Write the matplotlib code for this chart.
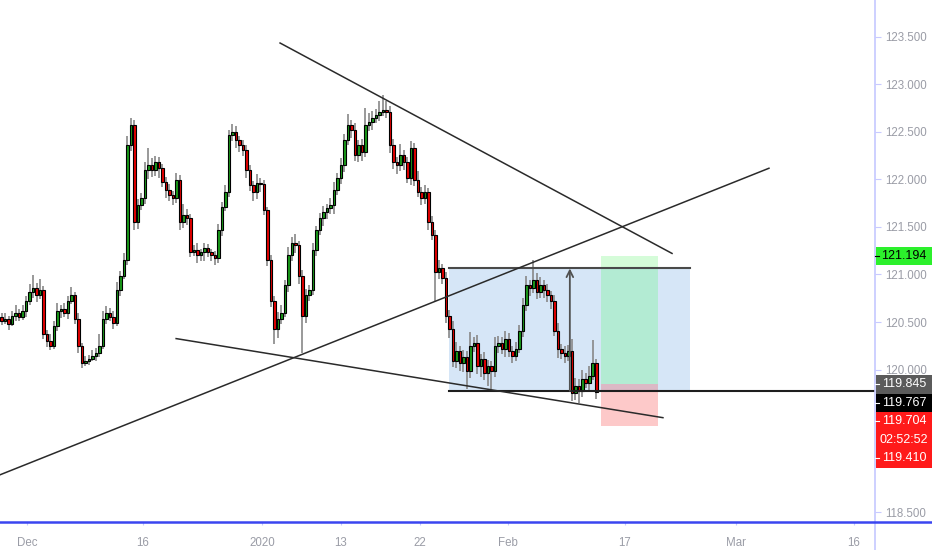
import numpy as np
import matplotlib.pyplot as plt
from matplotlib.patches import Rectangle

plt.rcParams['font.family'] = ['Liberation Sans', 'DejaVu Sans']

# ---- candles (USDJPY-ish, one bar per slot) ----
first_open = 120.55
closes = [
    120.516, 120.537, 120.484, 120.568, 120.600, 120.558, 120.621, 120.726, 120.811, 120.853,
    120.789, 120.832, 120.379, 120.305, 120.253, 120.463, 120.621, 120.642, 120.600, 120.726,
    120.779, 120.537, 120.253, 120.074, 120.095, 120.116, 120.147, 120.179, 120.253, 120.537,
    120.600, 120.558, 120.495, 120.832, 120.979, 121.147, 122.358, 122.568, 121.547, 121.726,
    121.800, 122.095, 122.147, 122.095, 122.179, 122.116, 121.968, 121.884, 121.832, 121.800,
    121.989, 121.547, 121.621, 121.589, 121.232, 121.253, 121.200, 121.232, 121.274, 121.232,
    121.200, 121.168, 121.463, 121.705, 121.863, 122.463, 122.495, 122.411, 122.358, 122.305,
    122.095, 121.937, 121.863, 121.958, 121.947, 121.674, 121.147, 120.726, 120.432, 120.537,
    120.600, 120.884, 121.200, 121.326, 121.305, 120.989, 120.568, 120.779, 120.832, 121.253,
    121.463, 121.589, 121.653, 121.695, 121.726, 121.884, 122.011, 122.147, 122.411, 122.568,
    122.516, 122.253, 122.358, 122.284, 122.568, 122.600, 122.642, 122.674, 122.705, 122.726,
    122.705, 122.358, 122.179, 122.147, 122.253, 122.179, 122.011, 122.326, 121.989, 121.863,
    121.800, 121.863, 121.547, 121.411, 121.021, 121.063, 120.958, 120.568, 120.432, 120.095,
    120.200, 120.074, 120.137, 119.989, 120.253, 120.284, 120.042, 120.116, 119.968, 120.042,
    119.989, 120.253, 120.284, 120.221, 120.326, 120.200, 120.147, 120.221, 120.411, 120.674,
    120.884, 120.853, 120.937, 120.811, 120.884, 120.832, 120.779, 120.726, 120.411, 120.221,
    120.179, 120.147, 120.200, 119.758, 119.832, 119.779, 119.905, 119.863, 119.937, 120.074,
    119.767,
]
# wick lengths in pips
wick_up = [
    4, 6, 3, 5, 8, 4, 6, 5, 9, 14,
    6, 12, 5, 4, 7, 5, 8, 4, 6, 5,
    9, 4, 6, 3, 5, 4, 6, 5, 12, 8,
    7, 5, 6, 9, 6, 8, 10, 8, 5, 7,
    6, 9, 18, 8, 7, 5, 4, 6, 7, 5,
    8, 6, 12, 7, 5, 6, 8, 4, 6, 5,
    4, 5, 7, 6, 8, 5, 9, 6, 4, 5,
    6, 5, 4, 10, 6, 5, 4, 6, 5, 7,
    8, 6, 9, 7, 10, 5, 6, 7, 6, 8,
    5, 6, 7, 5, 8, 9, 6, 8, 7, 12,
    6, 8, 5, 7, 18, 10, 8, 6, 12, 16,
    10, 6, 7, 5, 12, 6, 5, 8, 6, 10,
    6, 8, 5, 7, 6, 9, 5, 7, 6, 8,
    9, 5, 7, 6, 14, 6, 8, 5, 7, 6,
    5, 9, 7, 6, 8, 6, 5, 7, 6, 8,
    10, 6, 22, 8, 9, 6, 7, 5, 6, 8,
    5, 7, 6, 12, 8, 7, 9, 6, 10, 24,
    4,
]
wick_dn = [
    5, 4, 7, 3, 6, 5, 4, 7, 5, 6,
    8, 5, 6, 7, 5, 4, 6, 8, 5, 7,
    4, 6, 8, 6, 4, 5, 3, 6, 5, 4,
    6, 5, 7, 4, 6, 3, 5, 6, 8, 7,
    5, 6, 9, 7, 6, 10, 5, 8, 6, 7,
    5, 8, 6, 7, 5, 4, 8, 6, 9, 5,
    6, 7, 5, 6, 4, 5, 6, 8, 7, 6,
    8, 6, 9, 7, 8, 5, 6, 7, 16, 10,
    6, 5, 7, 6, 8, 9, 39, 8, 6, 5,
    6, 5, 8, 7, 6, 9, 5, 6, 7, 5,
    8, 6, 7, 9, 5, 6, 8, 5, 6, 4,
    6, 8, 7, 9, 6, 8, 5, 7, 6, 5,
    7, 6, 8, 5, 30, 7, 6, 8, 10, 7,
    8, 9, 10, 19, 8, 7, 9, 12, 8, 14,
    19, 7, 8, 6, 9, 7, 8, 6, 5, 7,
    6, 8, 5, 7, 6, 8, 7, 9, 6, 10,
    7, 8, 6, 9, 8, 13, 7, 6, 8, 5,
    8,
]

date_ticks = [7.3, 40.4, 74.4, 97.0, 119.6, 144.7, 178.1, 209.9, 243.6]
date_labels = ['Dec', '16', '2020', '13', '22', 'Feb', '17', 'Mar', '16']
price_ticks = [118.5, 119.0, 119.5, 120.0, 120.5, 121.0, 121.5, 122.0, 122.5, 123.0, 123.5]
hidden_ticks = [119.0, 119.5]  # covered by the price tags

# ---- drawings ----
trend_lines = [
    ((79.6, 123.432), (191.6, 121.221)),
    ((-0.4, 118.895), (219.3, 122.116)),
    ((49.9, 120.326), (189.0, 119.495)),
]
box_left, box_right = 127.9, 196.7
box_top, box_bottom = 121.063, 119.776
pos_left, pos_right = 171.3, 187.6
entry, target, stop = 119.845, 121.194, 119.410
arrow_x = 162.4

# label, price, background, text colour, draw tick dash
tags = [
    ('121.194', 121.194, '#2cf02c', 'black', True),
    ('119.845', 119.845, '#5b5b5b', 'white', True),
    ('119.767', 119.767, '#000000', 'white', True),
    ('119.704', 119.704, '#ff1a1a', 'white', True),
    ('02:52:52', 119.704, '#ff1a1a', 'white', False),
    ('119.410', 119.410, '#ff1a1a', 'white', True),
]

W, H = 932, 550
fig = plt.figure(figsize=(W / 100, H / 100), dpi=100)
ax_right_px, ax_bottom_px = 875, 521.5
ax = fig.add_axes([0, (H - ax_bottom_px) / H, ax_right_px / W, ax_bottom_px / H])

ymin, ymax = 118.404, 123.884
ax.set_xlim(-0.43, 249.6)
ax.set_ylim(ymin, ymax)

closes = np.array(closes)
opens = np.concatenate([[first_open], closes[:-1]])
idx = np.arange(len(closes))
highs = np.maximum(opens, closes) + np.array(wick_up) * 0.01
lows = np.minimum(opens, closes) - np.array(wick_dn) * 0.01
colors = np.where(closes >= opens, '#1a9a1a', '#e60000')

ax.vlines(idx, lows, highs, color='#888888', lw=1.2, zorder=2)
ax.bar(idx, np.maximum(np.abs(closes - opens), 0.004), bottom=np.minimum(opens, closes),
       width=0.82, color=colors, edgecolor='black', linewidth=0.8, zorder=3)

# range box + long position
ax.add_patch(Rectangle((box_left, box_bottom), box_right - box_left, box_top - box_bottom,
                       color='#d6e6f7', zorder=1, lw=0))
ax.add_patch(Rectangle((pos_left, entry), pos_right - pos_left, target - entry,
                       color='#d5fcd9', zorder=1.1, lw=0))
ax.add_patch(Rectangle((pos_left, entry), pos_right - pos_left, box_top - entry,
                       color='#b3ebd3', zorder=1.2, lw=0))
ax.add_patch(Rectangle((pos_left, stop), pos_right - pos_left, entry - stop,
                       color='#fdc9c9', zorder=1.1, lw=0))
ax.add_patch(Rectangle((pos_left, box_bottom), pos_right - pos_left, entry - box_bottom,
                       color='#dcb8c5', zorder=1.2, lw=0))
ax.plot([box_left, box_right], [box_top, box_top], color='#4a4a4a', lw=1.5, zorder=4)
ax.plot([box_left, 249.6], [box_bottom, box_bottom], color='#1e1e1e', lw=1.5, zorder=4)
ax.annotate('', xy=(arrow_x, box_top), xytext=(arrow_x, box_bottom),
            arrowprops=dict(arrowstyle='->', color='#505050', lw=1.3,
                            mutation_scale=12, shrinkA=0, shrinkB=0), zorder=4)

for (x0, y0), (x1, y1) in trend_lines:
    ax.plot([x0, x1], [y0, y1], color='#2a2a2a', lw=1.1, zorder=4)

for s in ax.spines.values():
    s.set_visible(False)
ax.yaxis.tick_right()
ax.set_yticks(price_ticks)
ax.set_yticklabels(['' if p in hidden_ticks else f'{p:.3f}' for p in price_ticks])
ax.tick_params(axis='y', length=4, width=0.8, color='#c8caff', pad=3,
               labelcolor='#9a9ca6', labelsize=8.3)
ax.set_xticks(date_ticks)
ax.set_xticklabels(date_labels)
ax.tick_params(axis='x', length=2, width=0.8, color='#c8caff', pad=9,
               labelcolor='#9a9ca6', labelsize=8.3)

# axis borders
fig.add_artist(plt.Line2D([ax_right_px / W] * 2, [0, 1], color='#c5c8ff', lw=1.2,
                          transform=fig.transFigure))
fig.add_artist(plt.Line2D([0, 1], [(H - ax_bottom_px) / H] * 2, color='#3a45f0', lw=1.8,
                          transform=fig.transFigure))

# price tags on the right scale, stacked where they would overlap
tag_h = 18.5
prev_top = None
for label, price, bg, fg, dash in tags:
    cy = ax_bottom_px - (price - ymin) / (ymax - ymin) * ax_bottom_px  # px from top
    if prev_top is not None and cy - tag_h / 2 < prev_top:
        cy = prev_top + tag_h / 2
    prev_top = cy + tag_h / 2
    y0 = (H - (cy + tag_h / 2)) / H
    fig.add_artist(Rectangle((ax_right_px / W + 0.001, y0), (W - ax_right_px) / W, tag_h / H,
                             transform=fig.transFigure, color=bg, lw=0, zorder=5))
    if dash:
        fig.add_artist(plt.Line2D([ax_right_px / W, (ax_right_px + 4) / W], [(H - cy) / H] * 2,
                                  color=fg, lw=0.8, transform=fig.transFigure, zorder=6))
    fig.text((ax_right_px + 29) / W, (H - cy) / H, label, color=fg, fontsize=9,
             ha='center', va='center', zorder=6)

fig.savefig('out.png', dpi=100)
